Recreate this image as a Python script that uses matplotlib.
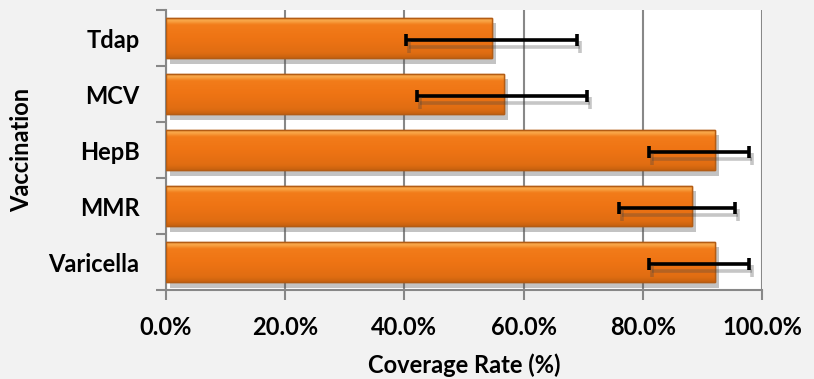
import numpy as np
import matplotlib
matplotlib.use("Agg")
import matplotlib.pyplot as plt
import matplotlib.patheffects as pe
from matplotlib.colors import LinearSegmentedColormap

categories = ["Varicella", "MMR", "HepB", "MCV", "Tdap"]
coverage = [92.1, 88.3, 92.1, 56.7, 54.7]
ci_low = [81.0, 76.0, 81.0, 42.1, 40.3]
ci_high = [97.8, 95.5, 97.8, 70.6, 69.0]
xticks = [0, 20, 40, 60, 80, 100]
xtick_labels = ["0.0%", "20.0%", "40.0%", "60.0%", "80.0%", "100.0%"]

plt.rcParams['font.family'] = ['Lato', 'DejaVu Sans']
plt.rcParams['font.weight'] = 'bold'

fig = plt.figure(figsize=(8.14, 3.79), dpi=100)
fig.patch.set_facecolor('#f2f2f2')
ax = fig.add_axes([166/814, 1-290/379, (762-166)/814, (290-10)/379])
ax.set_facecolor('white')

y = np.arange(len(categories))
bars = ax.barh(y, coverage, height=0.73, color='#ef7515', edgecolor='#b35c14',
               linewidth=1.0, zorder=3,
               path_effects=[pe.SimplePatchShadow(offset=(3, -4), shadow_rgbFace='#555555', alpha=0.35),
                             pe.Normal()])

cmap = LinearSegmentedColormap.from_list('o', [
    (0.0, '#c8620f'), (0.12, '#e06d12'), (0.5, '#ef7414'), (0.82, '#f27c1a'),
    (0.92, '#f9a94a'), (1.0, '#e98a35')])
grad = np.linspace(0, 1, 64).reshape(-1, 1)
for b in bars:
    x0, y0, w, h = b.get_x(), b.get_y(), b.get_width(), b.get_height()
    im = ax.imshow(grad, extent=[x0, x0 + w, y0, y0 + h], origin='lower', cmap=cmap,
                   aspect='auto', zorder=3.5, interpolation='bilinear')
    im.set_clip_path(b)
    ax.add_patch(plt.Rectangle((x0, y0), w, h, fill=False, edgecolor='#b35c14',
                               linewidth=1.0, zorder=3.6))

xerr = [np.array(coverage) - np.array(ci_low), np.array(ci_high) - np.array(coverage)]
eb = ax.errorbar(coverage, y - 0.03, xerr=xerr, fmt='none', ecolor='black',
                 elinewidth=2.6, capsize=4.3, capthick=2.6, zorder=5)
for artist in list(eb.lines[1]) + list(eb.lines[2]):
    artist.set_path_effects([pe.SimpleLineShadow(offset=(2, -5), shadow_color='#444444', alpha=0.3),
                             pe.Normal()])

ax.set_xlim(0, 100)
ax.set_ylim(-0.5, len(categories) - 0.5)
ax.set_xticks(xticks)
ax.set_xticklabels(xtick_labels, fontsize=17, fontweight='bold')
ax.set_yticks(y)
ax.set_yticklabels(categories, fontsize=17, fontweight='bold')
ax.set_yticks(np.arange(-0.5, len(categories)), minor=True)
ax.tick_params(axis='y', which='major', length=0, pad=19)
ax.tick_params(axis='y', which='minor', length=7, width=1.5, color='#888888')
ax.tick_params(axis='x', which='major', length=7, width=1.5, color='#888888', pad=12)

ax.grid(axis='x', color='#888888', linewidth=1.5, zorder=1)
ax.set_axisbelow(True)
for s in ['top', 'right']:
    ax.spines[s].set_visible(False)
ax.spines['left'].set_color('#888888')
ax.spines['left'].set_linewidth(1.5)
ax.spines['bottom'].set_color('#888888')
ax.spines['bottom'].set_linewidth(1.5)

ax.set_xlabel('Coverage Rate (%)', fontsize=17, fontweight='bold', labelpad=10)
ax.set_ylabel('Vaccination', fontsize=17, fontweight='bold')
ax.yaxis.set_label_coords(-(166 - 33)/596, 0.5)

fig.savefig('out.png', dpi=100, facecolor=fig.get_facecolor())
